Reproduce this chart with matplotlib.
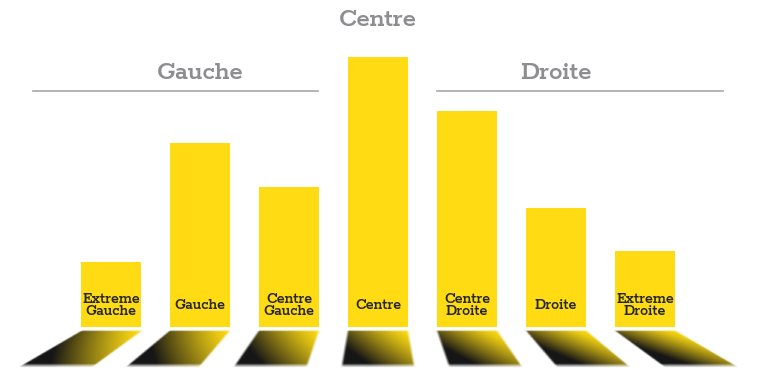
import numpy as np
import matplotlib.pyplot as plt

# Values (percent)
labels = ['Extreme\nGauche', 'Gauche', 'Centre\nGauche', 'Centre',
          'Centre\nDroite', 'Droite', 'Extreme\nDroite']
values = [6, 17, 13, 25, 20, 11, 7]
groups = ['Gauche', 'Centre', 'Droite']

yellow = np.array([254, 219, 18]) / 255
dark = np.array([22, 22, 22]) / 255
grey = '#8e8e92'

fig = plt.figure(figsize=(7.68, 3.80), dpi=100)
ax = fig.add_axes([0, 0, 1, 1])
ax.axis('off')

font = ['Rokkitt', 'DejaVu Sans']
x = np.arange(len(values))
width = 0.674
ax.bar(x, values, width=width, color=yellow, zorder=2)

for i, lab in enumerate(labels):
    ax.text(i, 2.0, lab, ha='center', va='center', fontsize=11.5,
            fontweight='bold', color='#262626', family=font,
            linespacing=0.85, zorder=3)

# shadows: parallelograms projected from the bar foot
mid = 3
spread = 1.2
top, bot = -0.28, -3.52
px_x, px_y = 89.0, 10.8
for i in x:
    xl, xr = i - width / 2, i + width / 2
    bl = mid + (xl - mid) * spread
    br = mid + (xr - mid) * spread
    x0, x1 = min(xl, bl) - 0.1, max(xr, br) + 0.1
    y0, y1 = bot - 0.6, top + 0.6
    gx = np.linspace(x0, x1, 200)
    gy = np.linspace(y1, y0, 80)
    X, Y = np.meshgrid(gx, gy)
    v = (top - Y) / (top - bot)
    left = xl + (bl - xl) * v
    right = xr + (br - xr) * v
    u = (X - left) / (right - left)
    a = np.ones_like(X)
    for d, soft in [((X - left) * px_x, 3.0), ((right - X) * px_x, 3.0),
                    ((top - Y) * px_y, 1.5), ((Y - bot) * px_y, 4.0)]:
        a *= np.clip(d / soft + 0.5, 0, 1)
    t = (1 - np.clip(u, 0, 1)) * 0.75 + np.clip(v, 0, 1) * 0.55
    t = np.clip(t, 0, 1) ** 1.3
    img = np.zeros(X.shape + (4,))
    for c in range(3):
        img[..., c] = yellow[c] * (1 - t) + dark[c] * t
    img[..., 3] = a
    ax.imshow(img, extent=(x0, x1, y0, y1), aspect='auto', zorder=1,
              interpolation='bilinear')

# group headers
ax.text(3, 28.4, groups[1], ha='center', va='center', fontsize=19.5,
        fontweight='bold', color=grey, family=font)
ax.text(1, 23.5, groups[0], ha='center', va='center', fontsize=19.5,
        fontweight='bold', color=grey, family=font)
ax.text(5, 23.5, groups[2], ha='center', va='center', fontsize=19.5,
        fontweight='bold', color=grey, family=font)
ax.plot([-0.876, 2.326], [21.85, 21.85], color='#a8a8a8', lw=1.2)
ax.plot([3.663, 6.876], [21.85, 21.85], color='#a8a8a8', lw=1.2)

ax.set_xlim(-1.247, 7.382)
ax.set_ylim(-4.907, 30.28)
fig.savefig('out.png', dpi=100)
